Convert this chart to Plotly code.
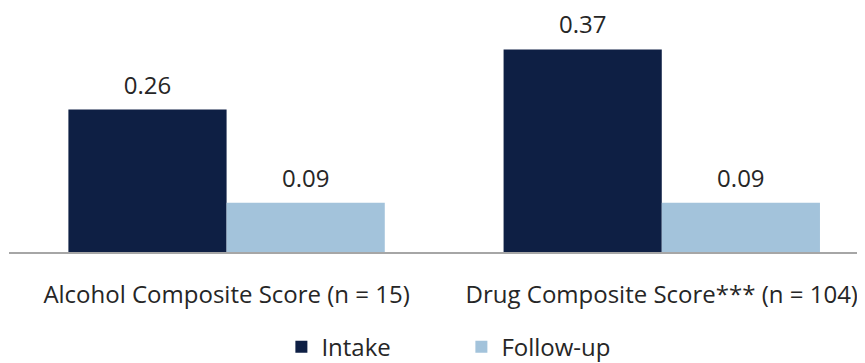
import plotly.graph_objects as go

categories = ["Alcohol Composite Score (n = 15)", "Drug Composite Score*** (n = 104)"]
intake = [0.26, 0.37]
follow_up = [0.09, 0.09]
series_names = ["Intake", "Follow-up"]
colors = ["#0e1f44", "#a3c3db"]

TEXT = "#262626"
FONT = "Open Sans, sans-serif"
FS = 24

fig = go.Figure()
for name, vals, col in zip(series_names, [intake, follow_up], colors):
    fig.add_trace(go.Bar(
        x=categories, y=vals, name=name, marker_color=col,
        marker_line_width=0, offsetgroup=name, hoverinfo="skip",
    ))
for name, vals in zip(series_names, [intake, follow_up]):
    fig.add_trace(go.Scatter(
        x=categories, y=vals, mode="markers+text", offsetgroup=name,
        text=[f"{v:.2f}" for v in vals], textposition="top center",
        marker=dict(size=14.4, color="rgba(0,0,0,0)"),
        textfont=dict(size=FS, color=TEXT, family=FONT),
        showlegend=False, cliponaxis=False, hoverinfo="skip",
    ))

# page body has an 8px margin; figure is sized to fit the 865x363 window
fig.update_layout(
    width=857, height=355,
    margin=dict(l=1, r=0, t=14, b=111),
    paper_bgcolor="white", plot_bgcolor="white",
    barmode="group", bargap=0.273, bargroupgap=0,
    scattermode="group", scattergap=0.273,
    font=dict(family=FONT, size=FS, color=TEXT),
    showlegend=True,
    legend=dict(orientation="h", xref="container", x=0.319, xanchor="left",
                yref="container", y=0.0445, yanchor="middle",
                font=dict(size=FS, color=TEXT, family=FONT),
                traceorder="normal", entrywidth=135, itemwidth=30),
    xaxis=dict(range=[-0.5, 1.467], showline=True, linecolor="#a6a6a6", linewidth=2,
               ticks="outside", ticklen=20, tickcolor="rgba(0,0,0,0)", showgrid=False,
               tickfont=dict(size=FS, color=TEXT, family=FONT)),
    yaxis=dict(range=[0, 0.42], visible=False, showgrid=False),
)

fig.write_html("out.html")
